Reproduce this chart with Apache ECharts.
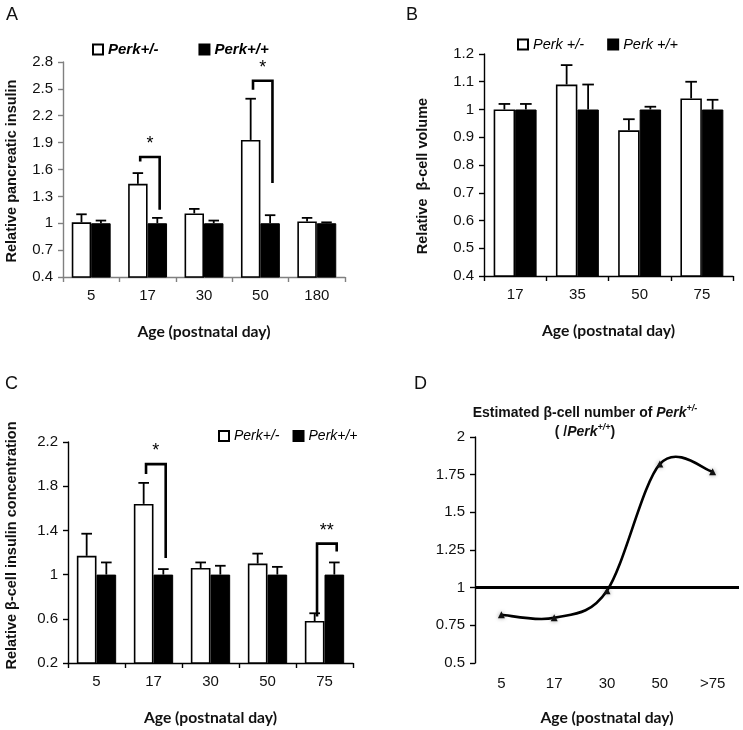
<!DOCTYPE html>
<html>
<head>
<meta charset="utf-8">
<script src="https://cdn.jsdelivr.net/npm/echarts@6/dist/echarts.min.js"></script>
<style>html,body{margin:0;padding:0;background:#fff}#c{width:743px;height:730px}</style>
</head>
<body>
<div id="c"></div>
<script>
// ---------- data ----------
const catsA = ['5', '17', '30', '50', '180'];
const hetA = [1.01, 1.44, 1.11, 1.93, 1.02];
const hetErrA = [1.10, 1.56, 1.16, 2.39, 1.06];
const wtA = [1, 1, 1, 1, 1];
const wtErrA = [1.03, 1.06, 1.03, 1.09, 1.01];
// brackets: [category index, top, left leg bottom, right leg bottom, stars]
const sigA = [[1, 1.74, 1.69, 1.15, 1], [3, 2.59, 2.49, 1.45, 1]];

const catsB = ['17', '35', '50', '75'];
const hetB = [1.0, 1.09, 0.925, 1.04];
const hetErrB = [1.02, 1.16, 0.965, 1.10];
const wtB = [1, 1, 1, 1];
const wtErrB = [1.02, 1.09, 1.01, 1.035];

const catsC = ['5', '17', '30', '50', '75'];
const hetC = [1.17, 1.64, 1.06, 1.10, 0.58];
const hetErrC = [1.37, 1.83, 1.11, 1.19, 0.65];
const wtC = [1, 1, 1, 1, 1];
const wtErrC = [1.11, 1.05, 1.08, 1.07, 1.11];
const sigC = [[1, 2.0, 1.91, 1.15, 1], [4, 1.28, 0.62, 1.21, 2]];

const catsD = ['5', '17', '30', '50', '>75'];
const ratioD = [0.82, 0.80, 0.98, 1.82, 1.77];
const refD = 1;

// ---------- helpers ----------
const GAP = 0.31;
const TICK_FONT = '"Liberation Sans", Arial, sans-serif';
const NAME_FONT = 'Lato, "Liberation Sans", sans-serif';
function errRender(params, api) {
  const i = api.value(0), v = api.value(1), e = api.value(2), side = api.value(3);
  const band = api.size([1, 0])[0];
  const bw = band * (1 - GAP) / 2;
  const c = api.coord([i, v]);
  const t = api.coord([i, e]);
  const x = c[0] + side * bw / 2;
  const cap = bw * 0.27;
  return {
    type: 'group', children: [
      {type: 'line', shape: {x1: x, y1: c[1], x2: x, y2: t[1]}, style: {stroke: '#000', lineWidth: 1.8}},
      {type: 'line', shape: {x1: x - cap, y1: t[1], x2: x + cap, y2: t[1]}, style: {stroke: '#000', lineWidth: 1.8}}
    ]
  };
}
function sigRender(params, api) {
  const i = api.value(0), top = api.value(1), lb = api.value(2), rb = api.value(3), n = api.value(4);
  const band = api.size([1, 0])[0];
  const bw = band * (1 - GAP) / 2;
  const cx = api.coord([i, top])[0];
  const xl = cx - bw * 0.38, xr = cx + bw * 0.62;
  const yt = api.coord([i, top])[1], yl = api.coord([i, lb])[1], yr = api.coord([i, rb])[1];
  return {
    type: 'group', children: [
      {type: 'polyline', shape: {points: [[xl, yl], [xl, yt], [xr, yt], [xr, yr]]},
        style: {stroke: '#000', lineWidth: 2.6, fill: null}},
      {type: 'text', x: (xl + xr) / 2, y: yt - 4,
        style: {text: '*'.repeat(n), fill: '#000', font: '18px "Liberation Sans", Arial, sans-serif', align: 'center', verticalAlign: 'bottom'}}
    ]
  };
}
// Catmull-Rom style smooth curve (as in spreadsheet smoothed lines) through the series points
function curveRender(params, api) {
  if (params.dataIndex !== 0) return null;
  const pts = ratioD.map((v, i) => api.coord([i, v]));
  const n = pts.length;
  const children = [];
  for (let i = 0; i < n - 1; i++) {
    const p0 = pts[Math.max(0, i - 1)], p1 = pts[i], p2 = pts[i + 1], p3 = pts[Math.min(n - 1, i + 2)];
    children.push({
      type: 'bezierCurve',
      shape: {
        x1: p1[0], y1: p1[1], x2: p2[0], y2: p2[1],
        cpx1: p1[0] + (p2[0] - p0[0]) / 6, cpy1: p1[1] + (p2[1] - p0[1]) / 6,
        cpx2: p2[0] - (p3[0] - p1[0]) / 6, cpy2: p2[1] - (p3[1] - p1[1]) / 6
      },
      style: {stroke: '#000', lineWidth: 2.6, fill: null}
    });
  }
  return {type: 'group', children: children};
}
function errData(vals, errs, side) { return vals.map((v, i) => [i, v, errs[i], side]); }

function xAx(gi, cats, color, margin) {
  return {
    type: 'category', gridIndex: gi, data: cats,
    axisLine: {lineStyle: {color: color, width: 1.4}},
    axisTick: {show: true, length: 5, lineStyle: {color: color, width: 1.4}},
    axisLabel: {color: '#111', fontSize: 15, fontFamily: TICK_FONT, margin: margin},
    name: 'Age (postnatal day)', nameLocation: 'middle', nameGap: 47,
    nameTextStyle: {fontFamily: NAME_FONT, fontWeight: 'bold', fontSize: 15.7, color: '#111'}
  };
}
function yAx(gi, min, max, interval, color, name, nameGap, pad) {
  return {
    type: 'value', gridIndex: gi, min: min, max: max, interval: interval,
    splitLine: {show: false},
    axisLine: {show: true, lineStyle: {color: color, width: 1.4}},
    axisTick: {show: true, length: 5, lineStyle: {color: color, width: 1.4}},
    axisLabel: {color: '#111', fontSize: 15, fontFamily: TICK_FONT, margin: 10, formatter: v => String(Math.round(v * 100) / 100)},
    name: name, nameLocation: 'middle', nameGap: nameGap,
    nameTextStyle: {fontFamily: TICK_FONT, fontWeight: 'bold', fontSize: 14.5, color: '#111', padding: pad}
  };
}
const whiteBar = {color: '#fff', borderColor: '#000', borderWidth: 1.6};
const blackBar = {color: '#000', borderColor: '#000', borderWidth: 1};
function bars(xi, nameH, nameW, het, wt) {
  return [
    {type: 'bar', name: nameH, xAxisIndex: xi, yAxisIndex: xi, data: het, barGap: '0%', barCategoryGap: (GAP * 100) + '%', itemStyle: whiteBar, z: 2},
    {type: 'bar', name: nameW, xAxisIndex: xi, yAxisIndex: xi, data: wt, barGap: '0%', barCategoryGap: (GAP * 100) + '%', itemStyle: blackBar, z: 2}
  ];
}

const chart = echarts.init(document.getElementById('c'), null, {renderer: 'canvas'});
const legendBase = {icon: 'rect', itemWidth: 10, itemHeight: 10, padding: 0};

const option = {
  animation: false,
  grid: [
    {left: 63, top: 62, width: 282, height: 215},
    {left: 484, top: 54, width: 249, height: 222},
    {left: 68, top: 442, width: 285, height: 221},
    {left: 475, top: 437, width: 264, height: 226}
  ],
  legend: [
    Object.assign({data: ['Perk+/-', 'Perk+/+'], left: 92, top: 42, itemGap: 40,
      textStyle: {fontFamily: TICK_FONT, fontSize: 15, fontWeight: 'bold', fontStyle: 'italic', color: '#000'}}, legendBase),
    Object.assign({data: ['Perk +/-', 'Perk +/+'], left: 517, top: 37, itemGap: 23,
      textStyle: {fontFamily: TICK_FONT, fontSize: 14.5, fontStyle: 'italic', color: '#000'}}, legendBase),
    Object.assign({data: ['Perk+/-', 'Perk+/+'], left: 218, top: 429, itemGap: 13,
      textStyle: {fontFamily: TICK_FONT, fontSize: 14, fontStyle: 'italic', color: '#000'}}, legendBase)
  ],
  xAxis: [
    xAx(0, catsA, '#808080', 11),
    xAx(1, catsB, '#000', 11),
    xAx(2, catsC, '#000', 11),
    Object.assign(xAx(3, catsD, '#000', 13), {axisLine: {show: false}, axisTick: {show: false}})
  ],
  yAxis: [
    yAx(0, 0.4, 2.8, 0.3, '#808080', 'Relative pancreatic insulin', 44, [0, 3, 0, 0]),
    yAx(1, 0.4, 1.2, 0.1, '#000', 'Relative  β-cell volume', 54, [0, 22, 0, 0]),
    yAx(2, 0.2, 2.2, 0.4, '#000', 'Relative β-cell insulin concentration', 49, [0, 0, 0, 14]),
    yAx(3, 0.5, 2, 0.25, '#000', '', 40, 0)
  ],
  graphic: [
    {type: 'text', x: 6, y: 6, style: {text: 'A', font: '18px "Liberation Sans", Arial', fill: '#111'}},
    {type: 'text', x: 406, y: 6, style: {text: 'B', font: '18px "Liberation Sans", Arial', fill: '#111'}},
    {type: 'text', x: 5, y: 375, style: {text: 'C', font: '18px "Liberation Sans", Arial', fill: '#111'}},
    {type: 'text', x: 414, y: 375, style: {text: 'D', font: '18px "Liberation Sans", Arial', fill: '#111'}},
    {type: 'text', x: 585, y: 404, style: {
      text: '{b|Estimated β-cell number of }{bi|Perk}{sup|+/-}\n{b|( /}{bi|Perk}{sup|+/+}{b|)}',
      align: 'center',
      rich: {
        b: {font: 'bold 14px "Liberation Sans", Arial', fill: '#111', lineHeight: 19},
        bi: {font: 'italic bold 14px "Liberation Sans", Arial', fill: '#111', lineHeight: 19},
        sup: {font: 'italic bold 9px "Liberation Sans", Arial', fill: '#111', lineHeight: 19, verticalAlign: 'top'}
      }
    }}
  ],
  series: [
    ...bars(0, 'Perk+/-', 'Perk+/+', hetA, wtA),
    {type: 'custom', xAxisIndex: 0, yAxisIndex: 0, renderItem: errRender, data: errData(hetA, hetErrA, -1).concat(errData(wtA, wtErrA, 1)), z: 3, silent: true},
    {type: 'custom', xAxisIndex: 0, yAxisIndex: 0, renderItem: sigRender, data: sigA, z: 4, silent: true},
    ...bars(1, 'Perk +/-', 'Perk +/+', hetB, wtB),
    {type: 'custom', xAxisIndex: 1, yAxisIndex: 1, renderItem: errRender, data: errData(hetB, hetErrB, -1).concat(errData(wtB, wtErrB, 1)), z: 3, silent: true},
    ...bars(2, 'Perk+/-', 'Perk+/+', hetC, wtC),
    {type: 'custom', xAxisIndex: 2, yAxisIndex: 2, renderItem: errRender, data: errData(hetC, hetErrC, -1).concat(errData(wtC, wtErrC, 1)), z: 3, silent: true},
    {type: 'custom', xAxisIndex: 2, yAxisIndex: 2, renderItem: sigRender, data: sigC, z: 4, silent: true},
    {type: 'line', xAxisIndex: 3, yAxisIndex: 3, data: ratioD, symbol: 'triangle', symbolSize: 7, z: 5,
      lineStyle: {width: 0, opacity: 0}, itemStyle: {color: '#111', shadowBlur: 4, shadowColor: 'rgba(0,0,0,0.4)'},
      markLine: {silent: true, symbol: 'none', label: {show: false}, lineStyle: {color: '#000', width: 3, type: 'solid'},
        data: [{yAxis: refD}]}},
    {type: 'custom', xAxisIndex: 3, yAxisIndex: 3, renderItem: curveRender, data: ratioD.map((v, i) => [i, v]), z: 4, silent: true}
  ]
};
chart.setOption(option);
</script>
</body>
</html>
